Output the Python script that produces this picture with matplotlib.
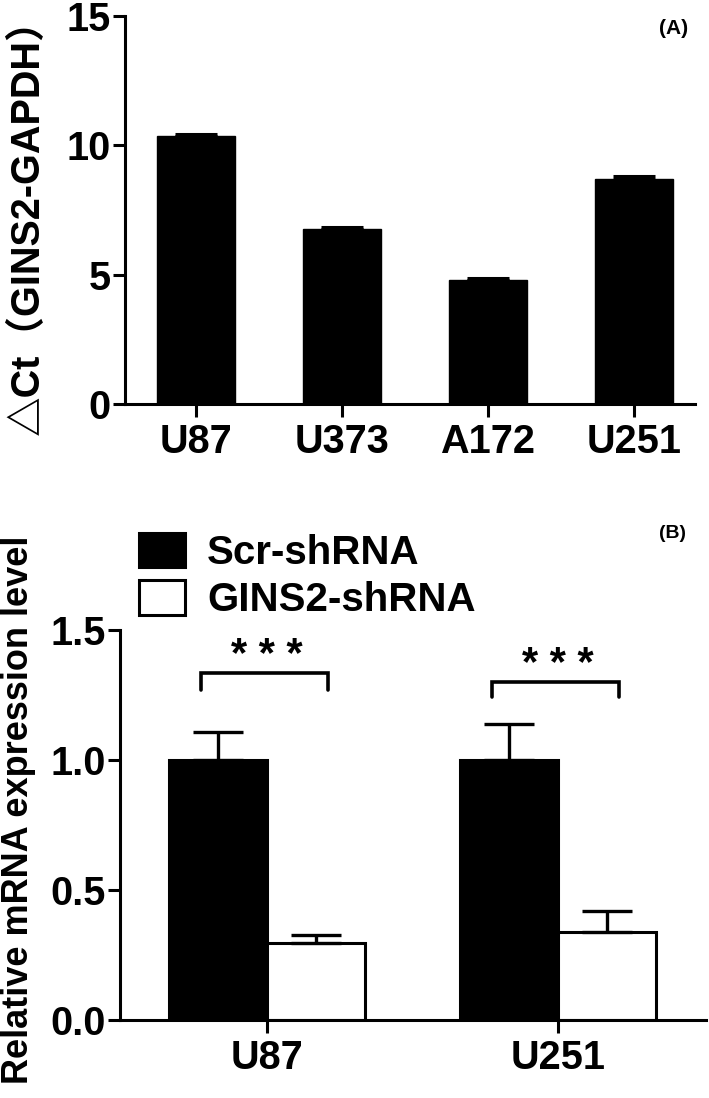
import matplotlib
matplotlib.use('Agg')
import matplotlib.pyplot as plt
import numpy as np
from matplotlib.patches import Patch

plt.rcParams['font.family'] = ['Liberation Sans', 'Noto Sans CJK SC', 'DejaVu Sans']
plt.rcParams['font.weight'] = 'bold'

# panel A data
cells_a = ['U87', 'U373', 'A172', 'U251']
dct = [10.35, 6.77, 4.8, 8.7]
dct_err = [0.08, 0.08, 0.07, 0.1]

# panel B data
cells_b = ['U87', 'U251']
scr = [1.0, 1.0]
scr_err = [0.108, 0.14]
kd = [0.296, 0.338]
kd_err = [0.031, 0.082]
# significance brackets (top y, leg bottom y, star y)
brk_top = [1.335, 1.30]
brk_leg = [1.27, 1.242]
star_y = [1.40, 1.367]

W, H = 709, 1098
fig = plt.figure(figsize=(W / 100, H / 100), dpi=100)

def px_axes(l, r, t, b):
    return fig.add_axes([l / W, 1 - b / H, (r - l) / W, (b - t) / H])

def style(ax):
    for s in ['top', 'right']:
        ax.spines[s].set_visible(False)
    for s in ['left', 'bottom']:
        ax.spines[s].set_linewidth(2.2)
    ax.tick_params(axis='both', width=2.2, labelsize=28.5)
    ax.tick_params(axis='y', length=8.5, pad=2)
    ax.tick_params(axis='x', length=9.5, pad=4)

# ---------- panel A ----------
axa = px_axes(125, 695, 16, 404)
xa = np.arange(len(cells_a))
axa.bar(xa, dct, width=0.534, color='black', edgecolor='black',
        yerr=[np.zeros(len(dct)), dct_err], capsize=15,
        error_kw=dict(elinewidth=2, capthick=2.2, ecolor='black'))
axa.set_xlim(-0.486, 3.418)
axa.set_ylim(0, 15)
axa.set_yticks([0, 5, 10, 15])
axa.set_xticks(xa)
axa.set_xticklabels(cells_a)
style(axa)
fig.text(27 / W, 1 - 217 / H, '△Ct（GINS2-GAPDH）', rotation=90,
         ha='center', va='center', fontsize=28.5, fontweight='bold')
fig.text(674 / W, 1 - 28 / H, '(A)', ha='center', va='center', fontsize=15, fontweight='bold')

# ---------- panel B ----------
axb = px_axes(120, 706, 630, 1020)
xb = np.arange(len(cells_b))
bw = 0.335
off = 0.168
axb.bar(xb - off, scr, width=bw, color='black', edgecolor='black', linewidth=2.2,
        yerr=[np.zeros(2), scr_err], capsize=18,
        error_kw=dict(elinewidth=2.4, capthick=2.4, ecolor='black'))
axb.bar(xb + off, kd, width=bw, color='white', edgecolor='black', linewidth=2.2,
        yerr=[np.zeros(2), kd_err], capsize=18,
        error_kw=dict(elinewidth=2.4, capthick=2.4, ecolor='black'))
for i in range(len(cells_b)):
    x0, x1 = xb[i] - 0.225, xb[i] + 0.21
    axb.plot([x0, x0, x1, x1], [brk_leg[i], brk_top[i], brk_top[i], brk_leg[i]],
             color='black', lw=2.6, solid_capstyle='round', solid_joinstyle='miter', clip_on=False)
    axb.text(xb[i], star_y[i], '* * *', ha='center', va='center', fontsize=30, fontweight='bold')
axb.set_xlim(-0.505, 1.509)
axb.set_ylim(0, 1.5)
axb.set_yticks([0, 0.5, 1.0, 1.5])
axb.set_yticklabels(['0.0', '0.5', '1.0', '1.5'])
axb.set_xticks(xb)
axb.set_xticklabels(cells_b)
style(axb)

handles = [Patch(facecolor='black', edgecolor='black', linewidth=2.2),
           Patch(facecolor='white', edgecolor='black', linewidth=2.2)]
fig.legend(handles, ['Scr-shRNA', 'GINS2-shRNA'], loc='upper left',
           bbox_to_anchor=(139 / W, 1 - 533 / H), frameon=False, fontsize=29,
           handlelength=1.14, handleheight=0.94, handletextpad=0.55,
           labelspacing=0.2, borderpad=0, borderaxespad=0)

fig.text(19 / W, 1 - 810 / H, 'Relative mRNA expression level', rotation=90,
         ha='center', va='center', fontsize=26, fontweight='bold')
fig.text(673 / W, 1 - 533 / H, '(B)', ha='center', va='center', fontsize=14, fontweight='bold')

fig.savefig('out.png', dpi=100)
